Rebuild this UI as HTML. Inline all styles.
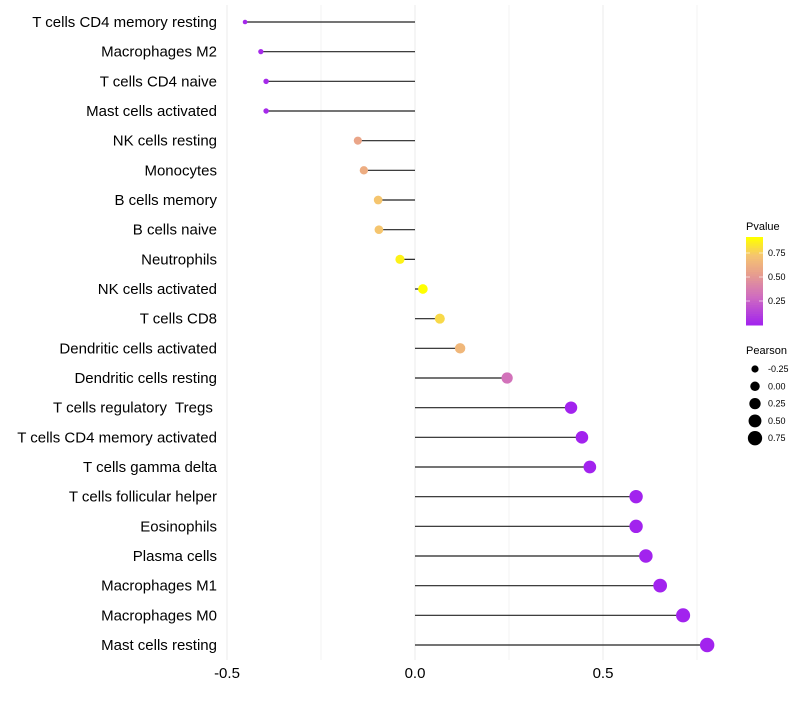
<!DOCTYPE html>
<html><head><meta charset="utf-8"><style>
body{margin:0;background:#fff;font-family:"Liberation Sans",sans-serif}
text{white-space:pre}
</style></head><body>
<svg id="chart" width="800" height="700" xmlns="http://www.w3.org/2000/svg" font-family="Liberation Sans, sans-serif"></svg>
<script>
const categories=["T cells CD4 memory resting","Macrophages M2","T cells CD4 naive","Mast cells activated","NK cells resting","Monocytes","B cells memory","B cells naive","Neutrophils","NK cells activated","T cells CD8","Dendritic cells activated","Dendritic cells resting","T cells regulatory  Tregs ","T cells CD4 memory activated","T cells gamma delta","T cells follicular helper","Eosinophils","Plasma cells","Macrophages M1","Macrophages M0","Mast cells resting"];
const pearson=[-0.452,-0.41,-0.396,-0.396,-0.152,-0.136,-0.098,-0.096,-0.04,0.021,0.066,0.12,0.245,0.415,0.444,0.465,0.588,0.588,0.614,0.652,0.713,0.777];
const pvalue=[0.03,0.04,0.04,0.04,0.58,0.62,0.74,0.74,0.88,0.92,0.8,0.67,0.33,0.01,0.01,0.01,0.01,0.01,0.01,0.01,0.01,0.01];
const xTicks=[-0.5,0,0.5];
const xTickLabels=["-0.5","0.0","0.5"];
const pTicks=[0.25,0.5,0.75];
const sizeTicks=[-0.25,0,0.25,0.5,0.75];

const NS="http://www.w3.org/2000/svg";
const svg=document.getElementById('chart');
function mk(t,a,p){const e=document.createElementNS(NS,t);for(const k in a)e.setAttribute(k,a[k]);(p||svg).appendChild(e);return e;}
const x=v=>415+v*376;
const y=i=>22+i*(623/21);
const r=v=>Math.sqrt(Math.max(2.5,13+38*(v+0.25)));
const pMax=0.92;
const stops=[[0,[160,32,240]],[0.33,[207,108,192]],[0.6,[232,160,140]],[0.8,[245,196,112]],[1,[255,255,0]]];
function col(p){let t=Math.min(1,Math.max(0,p/pMax));for(let i=1;i<stops.length;i++){if(t<=stops[i][0]){const a=stops[i-1],b=stops[i],f=(t-a[0])/(b[0]-a[0]);return 'rgb('+a[1].map((c,k)=>Math.round(c+(b[1][k]-c)*f)).join(',')+')';}}return 'rgb(255,255,0)';}

[-0.5,-0.25,0,0.25,0.5,0.75].forEach(v=>{const g=mk('line',{x1:x(v),x2:x(v),y1:5,y2:660,stroke:'#ebebeb','stroke-width':Math.abs(v*4)%2===1?0.6:1});});
xTicks.forEach((v,i)=>{const t=mk('text',{x:x(v),y:678,'text-anchor':'middle','font-size':15,fill:'#000'});t.textContent=xTickLabels[i];});
categories.forEach((c,i)=>{
 const t=mk('text',{x:217,y:y(i)+5,'text-anchor':'end','font-size':15,fill:'#000'});t.textContent=c;
 
 
 const l=mk('line',{x1:x(0),x2:x(pearson[i]),y1:y(i),y2:y(i),stroke:'#222','stroke-width':1.2});
 
 
 const d=mk('circle',{cx:x(pearson[i]),cy:y(i),r:r(pearson[i]),fill:col(pvalue[i])});
 
 
});
const lt=mk('text',{x:746,y:230,'font-size':11});lt.textContent='Pvalue';
const cbTop=237,cbBot=325,cbH=cbBot-cbTop;
for(let k=0;k<40;k++){const p=pMax*(1-k/40);const rc=mk('rect',{x:746,y:cbTop+k*cbH/40,width:17,height:cbH/40+0.5,fill:col(p)});}
pTicks.forEach(p=>{const yy=cbBot-p*96;const tl=mk('text',{x:768,y:yy+3,'font-size':9});tl.textContent=p.toFixed(2);
 const tk=mk('line',{x1:746,x2:750,y1:yy,y2:yy,stroke:'#fff','stroke-opacity':0.6});
 const tk2=mk('line',{x1:759,x2:763,y1:yy,y2:yy,stroke:'#fff','stroke-opacity':0.6});});
const st=mk('text',{x:746,y:354,'font-size':11});st.textContent='Pearson';
sizeTicks.forEach((v,i)=>{const yy=369+i*17.3;const c=mk('circle',{cx:755,cy:yy,r:r(v),fill:'#000'});
 const t=mk('text',{x:768,y:yy+3,'font-size':9});t.textContent=v.toFixed(2);});
</script>
</body></html>
